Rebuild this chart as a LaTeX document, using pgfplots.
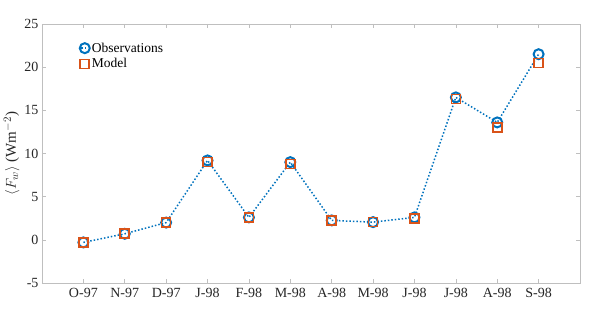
\documentclass[border=0pt]{standalone}
\usepackage{pgfplots}
\pgfplotsset{compat=1.18}
\usepackage{fontspec}
\setmainfont{Liberation Serif}
\definecolor{mblue}{rgb}{0,0.447,0.741}
\definecolor{morange}{rgb}{0.85,0.325,0.098}
\definecolor{axgray}{gray}{0.75}
\pgfplotsset{mylegend/.style={legend image code/.code={\draw[mark repeat=2,mark phase=2,##1] plot coordinates {(-0.12cm,0cm)(0cm,0cm)(0.12cm,0cm)};}}}
\begin{document}
\begin{tikzpicture}
\useasboundingbox (0,0) rectangle (598pt,319pt);
\begin{axis}[
  at={(42pt,36pt)}, anchor=south west,
  scale only axis, width=538pt, height=259pt,
  xmin=0, xmax=13, ymin=-5, ymax=25,
  xtick={1,...,12},
  xticklabels={O-97,N-97,D-97,J-98,F-98,M-98,A-98,M-98,J-98,J-98,A-98,S-98},
  ytick={-5,0,5,10,15,20,25},
  yticklabels={-5,0,5,10,15,20,25},
  tick align=inside,
  major tick length=4pt,
  axis line style={axgray, line width=0.8pt},
  tick style={axgray, line width=0.6pt},
  ticklabel style={font=\fontsize{14}{14}\selectfont, text=black!85},
  xticklabel style={yshift=-2pt},
  ylabel={$\langle F_w\rangle$ (Wm$^{-2}$)},
  ylabel style={font=\fontsize{15}{15}\selectfont, text=black!85, yshift=-2pt},
  legend style={at={(0.068,0.94)}, anchor=north west, draw=none, fill=none,
    font=\fontsize{13.5}{14}\selectfont, row sep=1pt, inner sep=1pt,
    nodes={xshift=1.5pt}},
  legend cell align=left,
]
\addplot[mblue, dotted, line width=1.5pt, mark=o, mark size=5pt,
  mark options={solid, line width=2pt}, mylegend] coordinates {
(1,-0.3)(2,0.7)(3,2.0)(4,9.2)(5,2.6)(6,9.0)(7,2.25)(8,2.05)(9,2.6)(10,16.5)(11,13.6)(12,21.5)};
\addlegendentry{Observations}
\addplot[morange, only marks, mark=square, mark size=4.5pt,
  mark options={solid, line width=1.6pt}, mylegend] coordinates {
(1,-0.3)(2,0.7)(3,2.0)(4,9.0)(5,2.6)(6,8.8)(7,2.25)(8,2.05)(9,2.5)(10,16.3)(11,13.0)(12,20.5)};
\addlegendentry{Model}
\end{axis}
\end{tikzpicture}
\end{document}
